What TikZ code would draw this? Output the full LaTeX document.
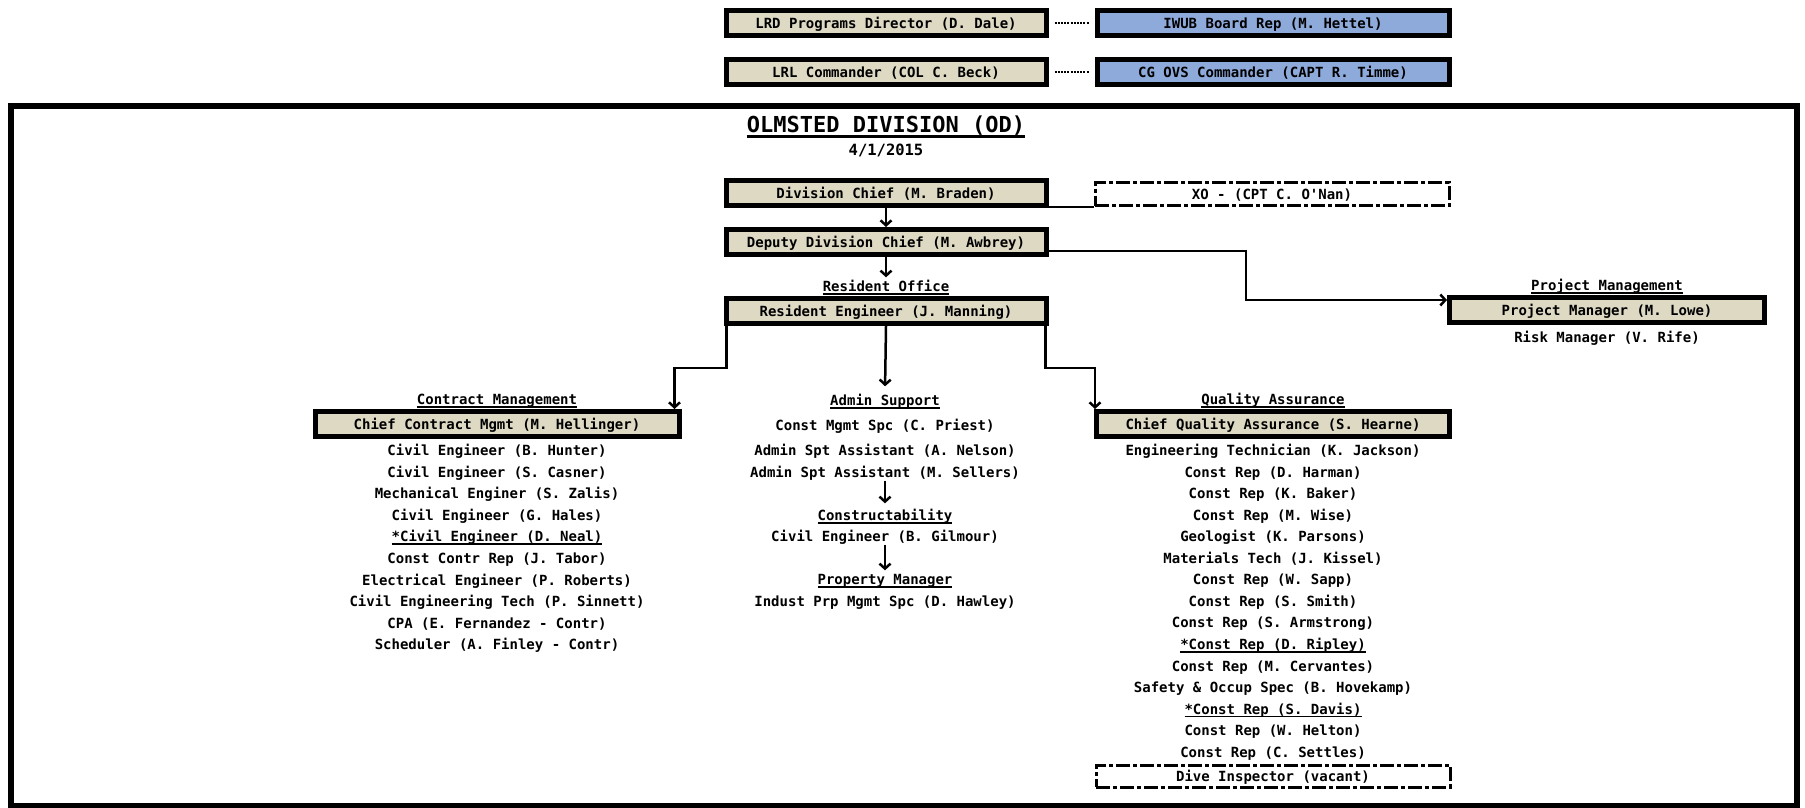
\documentclass[tikz,border=0pt]{standalone}
\usepackage{fontspec}
\newfontfamily\chartfont{DejaVu Sans Mono}
\usetikzlibrary{arrows.meta}
\definecolor{tanfill}{HTML}{DDD9C3}
\definecolor{bluefill}{HTML}{8EAADB}
\newcommand\ulx[1]{\setbox0\hbox{#1}\leavevmode\rlap{\raisebox{-3pt}{\rule{\wd0}{1.6pt}}}\box0}
\newcommand\ulxx[1]{\setbox0\hbox{#1}\leavevmode\rlap{\raisebox{-5pt}{\rule{\wd0}{3pt}}}\box0}
\begin{document}
\begin{tikzpicture}[x=1pt,y=-1pt,
  every node/.style={font=\chartfont\bfseries\fontsize{14pt}{16pt}\selectfont, inner sep=2pt, text height=12pt, text depth=1pt},
  tanbox/.style={draw=black, line width=5pt, fill=tanfill, minimum width=#1, minimum height=25pt, inner sep=0pt},
  bluebox/.style={tanbox=#1, fill=bluefill},
  dashbox/.style={draw=black, line width=3pt, dash pattern=on 14pt off 3pt on 4pt off 3pt, minimum width=#1, minimum height=23pt, inner sep=0pt},
  conn/.style={line width=2.5pt},
  arr/.style={conn, -{Straight Barb[length=5pt,width=11pt]}},
  dotline/.style={line width=1.3pt, dash pattern=on 2pt off 1.2pt, shorten <=6pt, shorten >=6pt},
  item/.style={},
  lbl/.style={}
]
\useasboundingbox (0,0) rectangle (1805,808);
\fill[white] (0,0) rectangle (1805,808);

% top row
\node[tanbox=320] (LRD) at (886,23) {LRD Programs Director (D. Dale)};
\node[bluebox=352] (IWUB) at (1273,23) {IWUB Board Rep (M. Hettel)};
\node[tanbox=320] (LRL) at (886,72) {LRL Commander (COL C. Beck)};
\node[bluebox=352] (CGO) at (1273,72) {CG OVS Commander (CAPT R. Timme)};
\draw[dotline] (LRD) -- (IWUB);
\draw[dotline] (LRL) -- (CGO);

% frame
\draw[line width=6pt] (11,106) rectangle (1797,806);

\node[font=\chartfont\bfseries\fontsize{22pt}{24pt}\selectfont, text height=16pt, text depth=5pt] (title) at (886,127) {\ulxx{OLMSTED DIVISION (OD)}};
\node[font=\chartfont\bfseries\fontsize{15.5pt}{17pt}\selectfont] (date) at (886,150) {4/1/2015};

% chain
\node[tanbox=320] (DC) at (886,193) {Division Chief (M. Braden)};
\node[dashbox=354] (XO) at (1272,194) {XO - (CPT C. O'Nan)};
\node[tanbox=320] (Dep) at (886,242) {Deputy Division Chief (M. Awbrey)};
\node[tanbox=320] (RE) at (886,311) {Resident Engineer (J. Manning)};
\node[lbl] (RO) at (886,286) {\ulx{Resident Office}};

\draw[conn] (XO.south west -| DC.east) -- (XO.south west);
\draw[arr] (DC.south) -- (Dep.north);
\draw[arr] (Dep.south) -- (RO.north);

% project management
\node[tanbox=315] (PM) at (1607,310) {Project Manager (M. Lowe)};
\node[lbl] (PMlbl) at (1607,285) {\ulx{Project Management}};
\node[item] (Risk) at (1607,337) {Risk Manager (V. Rife)};
\coordinate (bend) at (1246,251);
\draw[arr] ([yshift=-9pt]Dep.east) -- (bend) |- ([yshift=10pt]PM.west);

% department heads
\node[tanbox=364] (CCM) at (497,424) {Chief Contract Mgmt (M. Hellinger)};
\node[lbl] (CM) at (497,399) {\ulx{Contract Management}};
\node[lbl] (AS) at (885,400) {\ulx{Admin Support}};
\node[tanbox=353] (QAC) at (1273,424) {Chief Quality Assurance (S. Hearne)};
\node[lbl] (QA) at (1273,399) {\ulx{Quality Assurance}};

\coordinate (midY) at (0,368);
\coordinate (reL) at ([xshift=3pt]RE.south west);
\coordinate (reR) at ([xshift=-3pt]RE.south east);
\coordinate (ccmIn) at ([xshift=-7pt]CCM.north east);
\coordinate (qaIn) at ([xshift=1pt]QAC.north west);
\draw[arr] (reL) -- (reL |- midY) -| (ccmIn);
\draw[arr] (reR) -- (reR |- midY) -| (qaIn);
\draw[arr, shorten >=5pt] (RE.south) -- (AS.north);

% contract management list
\node[item] (c1) at (497,450) {Civil Engineer (B. Hunter)};
\node[item] (c2) at (497,471.6) {Civil Engineer (S. Casner)};
\node[item] (c3) at (497,493.2) {Mechanical Enginer (S. Zalis)};
\node[item] (c4) at (497,514.8) {Civil Engineer (G. Hales)};
\node[item] (c5) at (497,536.4) {\ulx{*Civil Engineer (D. Neal)}};
\node[item] (c6) at (497,558) {Const Contr Rep (J. Tabor)};
\node[item] (c7) at (497,579.6) {Electrical Engineer (P. Roberts)};
\node[item] (c8) at (497,601.2) {Civil Engineering Tech (P. Sinnett)};
\node[item] (c9) at (497,622.8) {CPA (E. Fernandez - Contr)};
\node[item] (c10) at (497,644.4) {Scheduler (A. Finley - Contr)};

% admin support
\node[item] (Pri) at (885,425) {Const Mgmt Spc (C. Priest)};
\node[item] (Nel) at (885,450) {Admin Spt Assistant (A. Nelson)};
\node[item] (Sel) at (885,472) {Admin Spt Assistant (M. Sellers)};
\node[lbl] (Cons) at (885,515) {\ulx{Constructability}};
\node[item] (Gil) at (885,536) {Civil Engineer (B. Gilmour)};
\node[lbl] (Prop) at (885,579) {\ulx{Property Manager}};
\node[item] (Haw) at (885,601) {Indust Prp Mgmt Spc (D. Hawley)};
\draw[arr, shorten >=3pt] (Sel.south) -- (Cons.north);
\draw[arr] (Gil.south) -- (Prop.north);

% quality assurance list
\node[item] (q1) at (1273,450) {Engineering Technician (K. Jackson)};
\node[item] (q2) at (1273,471.6) {Const Rep (D. Harman)};
\node[item] (q3) at (1273,493.1) {Const Rep (K. Baker)};
\node[item] (q4) at (1273,514.7) {Const Rep (M. Wise)};
\node[item] (q5) at (1273,536.2) {Geologist (K. Parsons)};
\node[item] (q6) at (1273,557.8) {Materials Tech (J. Kissel)};
\node[item] (q7) at (1273,579.3) {Const Rep (W. Sapp)};
\node[item] (q8) at (1273,600.9) {Const Rep (S. Smith)};
\node[item] (q9) at (1273,622.4) {Const Rep (S. Armstrong)};
\node[item] (q10) at (1273,644) {\ulx{*Const Rep (D. Ripley)}};
\node[item] (q11) at (1273,665.5) {Const Rep (M. Cervantes)};
\node[item] (q12) at (1273,687.1) {Safety \& Occup Spec (B. Hovekamp)};
\node[item] (q13) at (1273,708.6) {\ulx{*Const Rep (S. Davis)}};
\node[item] (q14) at (1273,730.2) {Const Rep (W. Helton)};
\node[item] (q15) at (1273,751.7) {Const Rep (C. Settles)};
\node[dashbox=354, minimum height=22pt] (Dive) at (1273,776) {Dive Inspector (vacant)};
\end{tikzpicture}
\end{document}
